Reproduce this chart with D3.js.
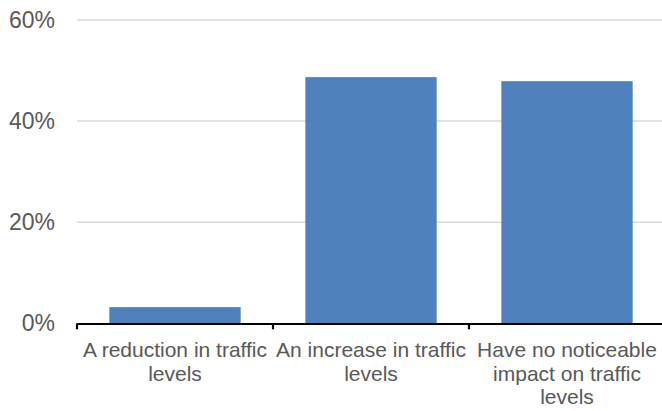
<!DOCTYPE html>
<html>
<head>
<meta charset="utf-8">
<script src="https://cdn.jsdelivr.net/npm/d3@7/dist/d3.min.js"></script>
<style>
  html, body { margin: 0; padding: 0; background: #fff; }
  svg { display: block; }
  text { font-family: "Liberation Sans", Arial, sans-serif; fill: #595959; }
</style>
</head>
<body>
<svg id="chart" width="662" height="411"></svg>
<script>
const categories = ["A reduction in traffic levels", "An increase in traffic levels", "Have no noticeable impact on traffic levels"];
const values = [3.2, 48.7, 47.9];
const yTicks = [0, 20, 40, 60];
const yTickLabels = ["0%", "20%", "40%", "60%"];

const svg = d3.select("#chart");
const x0 = 77, x1 = 665, yBase = 323.3, yTop = 20;

const x = d3.scaleBand().domain(categories).range([x0, x1]).paddingInner(0.33).paddingOuter(0.165);
const y = d3.scaleLinear().domain([0, 60]).range([yBase, yTop]);

// gridlines
svg.append("g").selectAll("line").data(yTicks.filter(d => d > 0)).join("line")
  .attr("x1", x0).attr("x2", 662)
  .attr("y1", d => y(d)).attr("y2", d => y(d))
  .attr("stroke", "#d9d9d9").attr("stroke-width", 1.5);

// y labels
svg.append("g").selectAll("text").data(yTicks).join("text")
  .attr("x", 55).attr("y", d => y(d))
  .attr("text-anchor", "end").attr("dominant-baseline", "central")
  .style("font-size", "23px")
  .text((d, i) => yTickLabels[i]);

// bars
svg.append("g").selectAll("rect").data(values).join("rect")
  .attr("x", (d, i) => x(categories[i]))
  .attr("width", x.bandwidth())
  .attr("y", d => y(d))
  .attr("height", d => yBase - y(d))
  .attr("fill", "#4f81bd");

// x axis line
svg.append("line").attr("x1", x0).attr("x2", 662).attr("y1", yBase + 0.7).attr("y2", yBase + 0.7)
  .attr("stroke", "#000").attr("stroke-width", 2.2);

// ticks at band edges
const step = x.step();
const edges = d3.range(categories.length + 1).map(i => x0 + i * step);
svg.append("g").selectAll("line").data(edges).join("line")
  .attr("x1", d => d).attr("x2", d => d)
  .attr("y1", yBase).attr("y2", yBase + 6)
  .attr("stroke", "#000").attr("stroke-width", 2.2);

// category labels with wrapping
const labels = svg.append("g").selectAll("text").data(categories).join("text")
  .attr("x", d => x(d) + x.bandwidth() / 2)
  .attr("y", 357)
  .attr("text-anchor", "middle")
  .style("font-size", "21px");

labels.each(function(d) {
  const t = d3.select(this);
  const words = d.split(" ");
  const maxW = step + 4;
  let line = [];
  let tspan = t.append("tspan").attr("x", t.attr("x")).attr("dy", 0);
  words.forEach(w => {
    line.push(w);
    tspan.text(line.join(" "));
    if (tspan.node().getComputedTextLength() > maxW && line.length > 1) {
      line.pop();
      tspan.text(line.join(" "));
      line = [w];
      tspan = t.append("tspan").attr("x", t.attr("x")).attr("dy", 23.5).text(w);
    }
  });
});
</script>
</body>
</html>
